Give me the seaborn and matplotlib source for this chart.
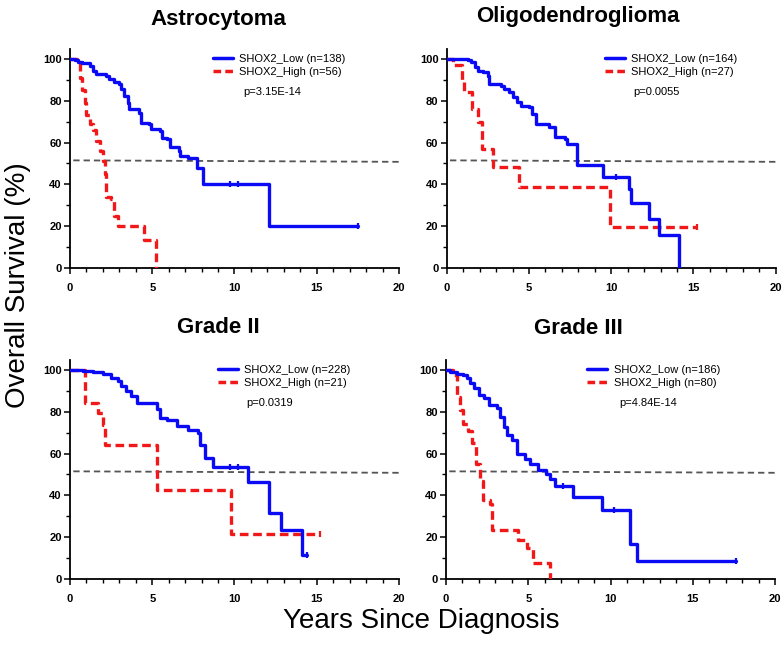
import numpy as np
import pandas as pd
import matplotlib
matplotlib.use("Agg")
import matplotlib.pyplot as plt
import seaborn as sns
from matplotlib.ticker import MultipleLocator
from matplotlib.lines import Line2D

"""
Values read off the reference figure
"""

titles = ["Astrocytoma", "Oligodendroglioma", "Grade II", "Grade III"]
n_low = [138, 164, 228, 186]
n_high = [56, 27, 21, 80]
pvals = ["p=3.15E-14", "p=0.0055", "p=0.0319", "p=4.84E-14"]

# Kaplan-Meier steps (years, % surviving)
astro_low_x = [0, 0.3, 0.5, 0.7, 1.2, 1.4, 1.6, 2.2, 2.4, 2.7, 3.0, 3.1, 3.3, 3.5, 3.6,
               4.2, 4.3, 4.8, 4.9, 5.5, 5.6, 5.9, 6.1, 6.6, 6.7, 7.2, 7.7, 8.1, 12.1, 17.5]
astro_low_y = [100, 99.5, 98.4, 97.9, 96.8, 94.4, 92.8, 92.0, 90.4, 88.8, 88.0, 85.6, 82.3, 79.1, 75.9,
               74.3, 69.5, 68.7, 66.3, 65.5, 62.3, 61.5, 57.8, 56.0, 53.5, 52.6, 47.8, 40.0, 20.0, 20.0]
astro_high_x = [0, 0.4, 0.6, 0.7, 0.9, 1.0, 1.2, 1.4, 1.6, 1.8, 2.0, 2.1, 2.2, 2.5, 2.7, 2.9, 4.5, 5.2]
astro_high_y = [100, 98, 91, 85, 79, 73, 69, 66, 61, 56, 51, 45, 34, 33, 25, 20, 13.3, 0]
astro_low_cens = ([9.7, 10.2, 17.5], [40, 40, 20])
astro_high_cens = ([], [])

oligo_low_x = [0, 1.3, 1.5, 1.7, 1.9, 2.2, 2.5, 2.6, 3.3, 3.5, 3.8, 4.0, 4.3, 4.5,
               5.0, 5.2, 5.4, 6.2, 6.6, 7.2, 7.3, 7.9, 9.5, 11.1, 11.2, 12.3, 12.9, 14.1]
oligo_low_y = [100, 99.5, 98.4, 96, 94.4, 93.6, 92, 88, 87.2, 85.6, 84, 81.7, 79.3, 77.7,
               76.9, 73.7, 68.9, 67.3, 62.5, 61.7, 59.3, 49.3, 43.4, 37.8, 31.1, 23.4, 15.8, 0]
oligo_high_x = [0, 0.4, 0.95, 1.05, 1.55, 1.9, 2.15, 2.8, 4.4, 9.9, 15.2]
oligo_high_y = [100, 97, 90, 84, 76, 70, 57, 48.5, 38.8, 19.5, 19.5]
oligo_low_cens = ([10.3], [43.4])
oligo_high_cens = ([15.2], [19.5])

g2_low_x = [0, 0.8, 1.4, 2.0, 2.5, 2.9, 3.1, 3.4, 3.7, 4.1, 5.3, 5.5, 5.9, 6.5, 7.2,
            7.8, 7.9, 8.2, 8.7, 10.8, 12.1, 12.8, 14.1, 14.4]
g2_low_y = [100, 99.6, 99.2, 98, 96.3, 94.7, 92.3, 89.9, 87.5, 84.3, 81.1, 77.1, 76.3, 73.1, 71.5,
            69.9, 64.3, 57.9, 53.8, 46.6, 31.4, 23.4, 11.4, 11.4]
g2_high_x = [0, 0.9, 1.7, 2.0, 2.1, 5.3, 9.8, 15.2]
g2_high_y = [100, 84.3, 79.5, 73.9, 64.3, 42.6, 21.5, 21.5]
g2_low_cens = ([9.7, 10.2, 14.4], [53.8, 53.8, 11.4])
g2_high_cens = ([15.2], [21.5])

g3_low_x = [0, 0.25, 0.65, 1.05, 1.25, 1.45, 1.7, 2.0, 2.3, 2.6, 3.1, 3.3, 3.5, 3.7,
            4.0, 4.3, 4.8, 5.1, 5.6, 6.1, 6.3, 6.6, 7.7, 9.5, 11.2, 11.6, 17.6]
g3_low_y = [100, 99.2, 97.9, 97.6, 96, 93.6, 91.2, 88, 86.4, 83.2, 81.6, 77.6, 72.8, 68.8,
            66.4, 60, 57.6, 55.2, 52, 50.4, 48, 44.3, 39.2, 32.8, 16.8, 8.5, 8.5]
g3_high_x = [0, 0.45, 0.65, 0.85, 1.05, 1.35, 1.55, 1.85, 2.05, 2.25, 2.65, 2.8, 4.4, 4.9, 5.3, 6.3]
g3_high_y = [100, 97.6, 87, 81, 74, 71, 65, 55, 47, 38, 36, 23.5, 18.5, 14.8, 7.7, 0]
g3_low_cens = ([7.1, 10.2, 17.6], [44.3, 32.8, 8.5])
g3_high_cens = ([], [])

# median reference line
median_x = [0.2, 20]
median_y = [51.5, 50.8]

curves = [
    (astro_low_x, astro_low_y, astro_high_x, astro_high_y, astro_low_cens, astro_high_cens),
    (oligo_low_x, oligo_low_y, oligo_high_x, oligo_high_y, oligo_low_cens, oligo_high_cens),
    (g2_low_x, g2_low_y, g2_high_x, g2_high_y, g2_low_cens, g2_high_cens),
    (g3_low_x, g3_low_y, g3_high_x, g3_high_y, g3_low_cens, g3_high_cens),
]

BLUE = "#0a0af5"
RED = "#f01818"
GREY = "#555555"

sns.set_style("ticks")
plt.rcParams["font.family"] = ["Liberation Sans", "DejaVu Sans"]
plt.rcParams["text.color"] = "black"
plt.rcParams["axes.labelcolor"] = "black"
plt.rcParams["xtick.color"] = "black"
plt.rcParams["ytick.color"] = "black"
plt.rcParams["axes.edgecolor"] = "black"

fig = plt.figure(figsize=(7.84, 6.48), dpi=100)

# axes boxes in figure fractions
boxes = [
    [0.0893, 0.5864, 0.4196, 0.3387],
    [0.5698, 0.5864, 0.4196, 0.3387],
    [0.0893, 0.1065, 0.4196, 0.3387],
    [0.5689, 0.1065, 0.4196, 0.3387],
]
leg_x = [0.435, 0.48, 0.45, 0.43]
p_x = [0.526, 0.568, 0.535, 0.526]
title_pos = [(218, 25), (578, 22), (218, 333), (578, 334)]


def plot_km(ax, lx, ly, hx, hy, lc, hc):
    df = pd.concat([
        pd.DataFrame({"years": hx, "surv": hy, "grp": "high"}),
        pd.DataFrame({"years": lx, "surv": ly, "grp": "low"}),
    ], ignore_index=True)

    ax.plot(median_x, median_y, color=GREY, lw=1.3, dashes=(3.5, 2.2), zorder=1)

    sns.lineplot(data=df, x="years", y="surv", hue="grp", style="grp",
                 hue_order=["high", "low"], style_order=["high", "low"],
                 palette={"high": RED, "low": BLUE},
                 dashes={"high": (2.6, 1.4), "low": ""},
                 estimator=None, sort=False, drawstyle="steps-post",
                 linewidth=2.4, legend=False, ax=ax, zorder=3)

    ax.plot(hc[0], hc[1], ls="none", marker="|", ms=5, mew=1.6, color=RED, zorder=3)
    ax.plot(lc[0], lc[1], ls="none", marker="|", ms=5, mew=1.6, color=BLUE, zorder=4)
    return ax


for i, (lx, ly, hx, hy, lc, hc) in enumerate(curves):
    ax = fig.add_axes(boxes[i])
    plot_km(ax, lx, ly, hx, hy, lc, hc)

    ax.set_xlim(0, 20)
    ax.set_ylim(0, 105)
    ax.xaxis.set_major_locator(MultipleLocator(5))
    ax.xaxis.set_minor_locator(MultipleLocator(1))
    ax.yaxis.set_major_locator(MultipleLocator(20))
    ax.yaxis.set_minor_locator(MultipleLocator(10))
    ax.set_xlabel("")
    ax.set_ylabel("")
    sns.despine(ax=ax)
    for sp in ["left", "bottom"]:
        ax.spines[sp].set_linewidth(1.3)
        ax.spines[sp].set_color("black")
    ax.tick_params(which="major", direction="out", length=4, width=1.1, labelsize=8,
                   color="black", labelcolor="black")
    ax.tick_params(which="minor", direction="out", length=3, width=1.0, color="black")
    ax.tick_params(axis="x", which="major", pad=7)
    ax.tick_params(axis="y", which="major", pad=2)
    for lab in ax.get_xticklabels() + ax.get_yticklabels():
        lab.set_fontweight("bold")

    handles = [Line2D([], [], color=BLUE, lw=2.5),
               Line2D([], [], color=RED, lw=2.5, dashes=(2.2, 1.2))]
    labels = [f"SHOX2_Low (n={n_low[i]})", f"SHOX2_High (n={n_high[i]})"]
    leg = ax.legend(handles, labels, loc="upper left", bbox_to_anchor=(leg_x[i], 0.975),
                    frameon=False, fontsize=8, handlelength=1.8, handletextpad=0.55,
                    labelspacing=0.25, borderpad=0, borderaxespad=0)
    for t in leg.get_texts():
        t.set_color("black")
    ax.text(p_x[i], 0.80, pvals[i], transform=ax.transAxes, fontsize=8,
            ha="left", va="center", color="black")

    tx, ty = title_pos[i]
    fig.text(tx / 784, 1 - ty / 648, titles[i], ha="center", va="baseline",
             fontsize=16, fontweight="bold", color="black")

fig.text(421 / 784, 1 - 628 / 648, "Years Since Diagnosis", ha="center",
         va="baseline", fontsize=20, color="black")
fig.text(18.5 / 784, 1 - 285 / 648, "Overall Survival (%)", ha="center",
         va="center", rotation=90, fontsize=20, color="black")

fig.savefig("out.png", dpi=100)
